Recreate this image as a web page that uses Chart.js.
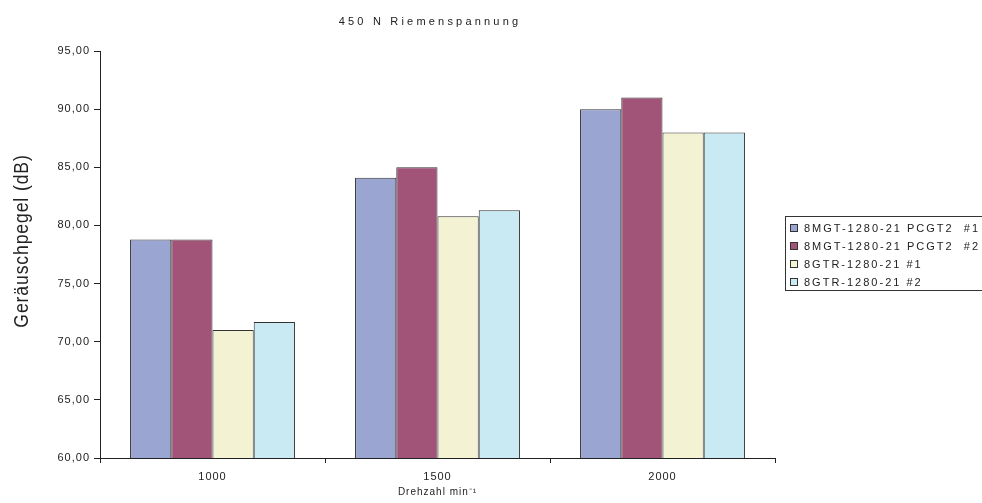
<!DOCTYPE html>
<html>
<head>
<meta charset="utf-8">
<script src="https://cdn.jsdelivr.net/npm/chart.js@4.4.1/dist/chart.umd.min.js"></script>
<style>
  html, body { margin:0; padding:0; background:#fff; overflow:hidden; }
  #wrap { width:982px; height:503px; }
</style>
</head>
<body>
<div id="wrap"><canvas id="c" width="982" height="503"></canvas></div>
<script>
// Daten
const categories = ['1000', '1500', '2000'];
const seriesNames = ['8MGT-1280-21 PCGT2  #1', '8MGT-1280-21 PCGT2  #2', '8GTR-1280-21 #1', '8GTR-1280-21 #2'];
const seriesColors = ['#9aa5d2', '#a15478', '#f3f2d3', '#c9e9f3'];
const mgt1 = [78.8, 84.1, 90.0];
const mgt2 = [78.8, 85.0, 91.0];
const gtr1 = [71.0, 80.8, 88.0];
const gtr2 = [71.7, 81.3, 88.0];
const yTicks = [60, 65, 70, 75, 80, 85, 90, 95];

const FONT = "'Liberation Sans', Arial, sans-serif";

// Titel, Y-Achsentitel und Legende selbst zeichnen
const extras = {
    id: 'extras',
    beforeDraw(chart) {
        chart.ctx.letterSpacing = '1px';
    },
    afterDraw(chart) {
        const ctx = chart.ctx;
        ctx.save();
        ctx.fillStyle = '#222';
        ctx.textBaseline = 'middle';

        // Haupttitel
        ctx.letterSpacing = '3.2px';
        ctx.font = '11px ' + FONT;
        ctx.textAlign = 'center';
        ctx.fillText('450 N Riemenspannung', 430, 22);

        // Y-Titel (schmal und hoch)
        ctx.save();
        ctx.letterSpacing = '1px';
        ctx.translate(22, 241);
        ctx.rotate(-Math.PI / 2);
        ctx.scale(0.88, 1);
        ctx.font = '20px ' + FONT;
        ctx.fillText('Geräuschpegel (dB)', 0, 0);
        ctx.restore();

        // Legende
        const lx = 785, ly = 216;
        ctx.strokeStyle = '#333';
        ctx.lineWidth = 1;
        ctx.strokeRect(lx + 0.5, ly + 0.5, 260, 74);
        ctx.letterSpacing = '2px';
        ctx.font = '11px ' + FONT;
        ctx.textAlign = 'left';
        chart.data.datasets.forEach((ds, i) => {
            const y = ly + 12 + i * 18;
            ctx.fillStyle = ds.backgroundColor;
            ctx.fillRect(lx + 5, y - 4, 8, 8);
            ctx.strokeRect(lx + 5.5, y - 3.5, 7, 7);
            ctx.fillStyle = '#222';
            ctx.fillText(ds.label, lx + 19, y + 1);
        });
        ctx.restore();
    }
};

const values = [mgt1, mgt2, gtr1, gtr2];
const ctx = document.getElementById('c').getContext('2d');
new Chart(ctx, {
    type: 'bar',
    data: {
        labels: categories,
        datasets: seriesNames.map((name, i) => ({
            label: name,
            data: values[i],
            backgroundColor: seriesColors[i],
            borderColor: '#333',
            borderWidth: 1,
            categoryPercentage: 0.733,
            barPercentage: 1.0
        }))
    },
    options: {
        responsive: false,
        animation: false,
        devicePixelRatio: 1,
        layout: { padding: { top: 51, right: 207, left: 0, bottom: 0 } },
        plugins: { legend: { display: false }, title: { display: false }, tooltip: { enabled: false } },
        scales: {
            x: {
                offset: true,
                grid: { display: true, offset: true, drawOnChartArea: false, color: '#222', tickLength: 5 },
                border: { color: '#222', width: 1 },
                ticks: { color: '#222', font: { size: 11, family: FONT }, padding: 7, maxRotation: 0 },
                title: { display: true, text: 'Drehzahl min⁻¹', color: '#222', font: { size: 10, family: FONT }, padding: { top: 0, bottom: 5 } },
                afterFit(scale) { scale.height = 45; }
            },
            y: {
                min: 60,
                max: 95,
                afterBuildTicks(scale) { scale.ticks = yTicks.map(v => ({ value: v })); },
                grid: { display: true, drawOnChartArea: false, color: '#222', tickLength: 6 },
                border: { color: '#222', width: 1 },
                ticks: {
                    color: '#222',
                    font: { size: 11, family: FONT },
                    padding: 4,
                    callback: v => v.toFixed(2).replace('.', ',')
                },
                afterFit(scale) { scale.width = 100; }
            }
        }
    },
    plugins: [extras]
});
</script>
</body>
</html>
